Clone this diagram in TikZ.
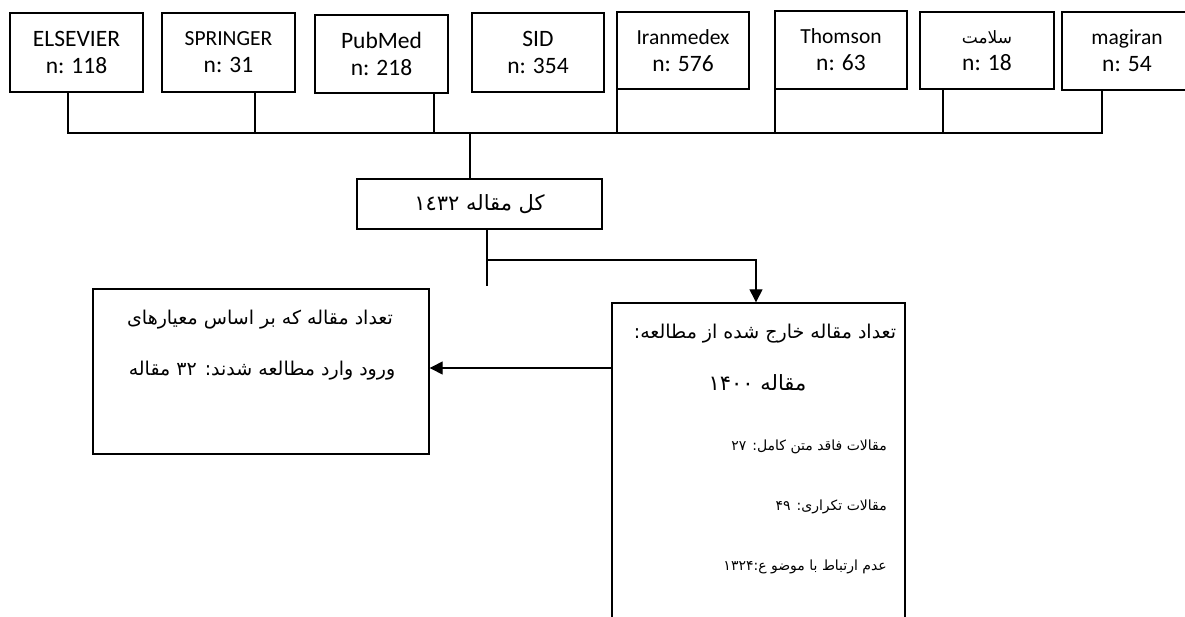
\documentclass[tikz,border=0pt]{standalone}
\usepackage{fontspec}
\usetikzlibrary{arrows.meta}
\setmainfont{Carlito}
\newfontfamily\arabicfont[Script=Arabic]{DejaVu Sans}
\TeXXeTstate=1
\newcommand{\bigln}{\fontsize{23.5}{27}\selectfont}
\newcommand{\smlln}{\fontsize{21.5}{27}\selectfont}
\tikzset{
  srcbox/.style={draw, line width=1.4pt, inner sep=0pt, align=center, font=\bigln},
  plainbox/.style={draw, line width=1.4pt, inner sep=0pt},
  conn/.style={line width=1.4pt},
  arr/.style={line width=1.4pt, -{Triangle[length=13pt,width=13pt]}},
  arbig/.style={inner sep=0pt, font=\arabicfont\fontsize{19}{24}\selectfont},
  artot/.style={inner sep=0pt, font=\arabicfont\fontsize{21}{24}\selectfont},
  arsmall/.style={inner sep=0pt, font=\arabicfont\fontsize{14}{18}\selectfont},
}
\begin{document}
\begin{tikzpicture}[x=1pt,y=-1pt]
\useasboundingbox (0,0) rectangle (1185,617);
\clip (0,0) rectangle (1185,617);
\fill[white] (0,0) rectangle (1185,617);

% source boxes
\node[srcbox, minimum width=133pt, minimum height=79pt] (els) at (76.5,52.5) {ELSEVIER\\n: 118};
\node[srcbox, minimum width=133pt, minimum height=79pt] (spr) at (228.5,52.5) {{\smlln SPRINGER}\\n: 31};
\node[srcbox, minimum width=133pt, minimum height=78pt] (pub) at (381.5,54) {PubMed\\n: 218};
\node[srcbox, minimum width=132pt, minimum height=79pt] (sid) at (538,52.5) {SID\\n: 354};
\node[srcbox, minimum width=132pt, minimum height=77pt] (iran) at (683,50.5) {{\smlln Iranmedex}\\n: 576};
\node[srcbox, minimum width=132pt, minimum height=78pt] (thom) at (841,50) {{\smlln Thomson}\\n: 63};
\node[srcbox, minimum width=134pt, minimum height=77pt] (sal) at (987,50.5) {{\arabicfont\fontsize{17}{27}\selectfont\beginR سلامت\endR}\\n: 18};
\node[srcbox, minimum width=130pt, minimum height=78pt] (mag) at (1127,51) {{\smlln magiran}\\n: 54};

% bus
\coordinate (busL) at (68,133);
\coordinate (busR) at (1102,133);
\coordinate (busC) at (470,133);
\draw[conn] (els.south -| busL) -- (busL) -- (busR) -- (mag.south -| busR);
\draw[conn] (spr.south -| 255,0) -- (255,133);
\draw[conn] (pub.south -| 434,0) -- (434,133);
\draw[conn] (iran.south -| 617,0) -- (617,133);
\draw[conn] (thom.south -| 775,0) -- (775,133);
\draw[conn] (sal.south -| 943,0) -- (943,133);

% total box
\node[plainbox, minimum width=245pt, minimum height=50pt, artot] (tot) at (479.5,204) {\beginR کل مقاله ١٤٣٢\endR};
\draw[conn] (busC) -- (tot.north -| busC);

% included / excluded boxes
\node[plainbox, minimum width=336pt, minimum height=165pt] (inc) at (261,371.5) {};
\node[plainbox, minimum width=293pt, minimum height=337pt] (exc) at (758.5,471.5) {};

\coordinate (stub) at (487,286);
\coordinate (split) at (487,260);
\draw[conn] (tot.south -| stub) -- (stub);
\draw[arr] (split) -| (exc.north -| 756,0);
\draw[arr] (exc.west |- 0,368) -- (inc.east |- 0,368);

% texts
\node[arbig] (inc1) at (260,320) {\beginR تعداد مقاله که بر اساس معیارهای\endR};
\node[arbig] (inc2) at (262,371) {\beginR ورود وارد مطالعه شدند: ۳۲ مقاله\endR};
\node[arbig] (exc1) at (765,334) {\beginR تعداد مقاله خارج شده از مطالعه:\endR};
\node[arbig, font=\arabicfont\fontsize{21}{24}\selectfont] (exc2) at (757.5,383) {\beginR مقاله ۱۴۰۰\endR};
\node[arsmall, anchor=east] (exc3) at (887,447) {\beginR مقالات فاقد متن کامل: ۲۷\endR};
\node[arsmall, anchor=east] (exc4) at (887,507) {\beginR مقالات تکراری: ۴۹\endR};
\node[arsmall, anchor=east] (exc5) at (887,567) {\beginR عدم ارتباط با موضو ع:۱۳۲۴\endR};
\end{tikzpicture}
\end{document}
